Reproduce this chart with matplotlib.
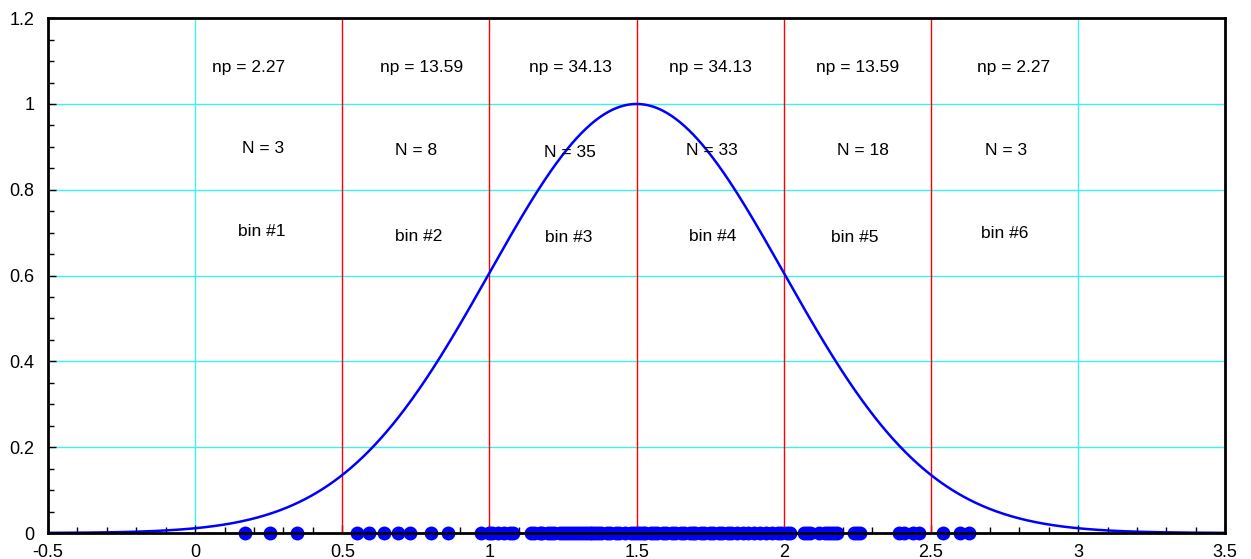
import numpy as np
import matplotlib.pyplot as plt

plt.rcParams['font.family'] = ['Liberation Sans', 'DejaVu Sans']

# Gaussian curve parameters
mu = 1.5
sigma = 0.5

# bin edges and labels
bin_edges = [0.5, 1.0, 1.5, 2.0, 2.5]
np_labels = ['np = 2.27', 'np = 13.59', 'np = 34.13', 'np = 34.13', 'np = 13.59', 'np = 2.27']
n_labels = ['N = 3', 'N = 8', 'N = 35', 'N = 33', 'N = 18', 'N = 3']
bin_labels = ['bin #1', 'bin #2', 'bin #3', 'bin #4', 'bin #5', 'bin #6']
np_x = [0.18, 0.77, 1.275, 1.75, 2.25, 2.78]
n_x = [0.23, 0.75, 1.275, 1.755, 2.27, 2.755]
n_y = [0.897, 0.892, 0.888, 0.892, 0.892, 0.892]
bin_x = [0.225, 0.76, 1.27, 1.76, 2.24, 2.75]
bin_y = [0.702, 0.690, 0.688, 0.692, 0.688, 0.697]

# sample points (100 values)
samples = [
    0.17, 0.255, 0.345,
    0.55, 0.59, 0.64, 0.69, 0.73, 0.80, 0.86, 0.97,
    1.00, 1.01, 1.03, 1.05, 1.07, 1.08,
    1.14, 1.15, 1.17, 1.18, 1.20, 1.21, 1.22, 1.24, 1.25, 1.26,
    1.27, 1.28, 1.29, 1.30, 1.31, 1.32, 1.33, 1.34, 1.35, 1.36,
    1.37, 1.38, 1.40, 1.41, 1.43, 1.44, 1.46, 1.48, 1.49,
    1.50, 1.51, 1.52, 1.53, 1.55, 1.56, 1.57, 1.59, 1.60, 1.62,
    1.63, 1.65, 1.66, 1.68, 1.69, 1.70, 1.72, 1.73, 1.75, 1.76,
    1.78, 1.79, 1.81, 1.82, 1.84, 1.86, 1.88, 1.90, 1.92, 1.94,
    1.96, 1.98, 1.99,
    2.01, 2.02, 2.07, 2.08, 2.09, 2.12, 2.14, 2.15, 2.16, 2.17, 2.18,
    2.24, 2.25, 2.26, 2.39, 2.41, 2.44, 2.46,
    2.54, 2.60, 2.63,
]

fig = plt.figure(figsize=(12.51, 5.59), dpi=100)
ax = fig.add_axes([0.0384, 0.0465, 0.941, 0.921])

# grid (cyan), skipped where a red bin boundary sits
for gx in np.arange(0, 3.01, 0.5):
    if gx not in bin_edges:
        ax.axvline(gx, color='#40f0f0', lw=1.0, zorder=1)
for gy in np.arange(0.2, 1.01, 0.2):
    ax.axhline(gy, color='#40f0f0', lw=1.0, zorder=1)

# bin boundaries
for e in bin_edges:
    ax.axvline(e, color='red', lw=1.0, zorder=2)

# gaussian curve
x = np.linspace(-0.5, 3.5, 800)
y = np.exp(-(x - mu) ** 2 / (2 * sigma ** 2))
ax.plot(x, y, color='blue', lw=1.8, zorder=3)

# sample dots
ax.scatter(samples, np.zeros(len(samples)), s=100, color='blue', zorder=4, clip_on=False, linewidths=0)

# labels
for i in range(6):
    ax.text(np_x[i], 1.086, np_labels[i], fontsize=12.5, ha='center', va='center', zorder=5)
    ax.text(n_x[i], n_y[i], n_labels[i], fontsize=12.5, ha='center', va='center', zorder=5)
    ax.text(bin_x[i], bin_y[i], bin_labels[i], fontsize=12.5, ha='center', va='center', zorder=5)

ax.set_xlim(-0.5, 3.5)
ax.set_ylim(0, 1.2)
ax.set_xticks(np.arange(-0.5, 3.51, 0.5))
ax.set_xticklabels(['-0.5', '0', '0.5', '1', '1.5', '2', '2.5', '3', '3.5'])
ax.set_yticks(np.arange(0, 1.21, 0.2))
ax.set_yticklabels(['0', '0.2', '0.4', '0.6', '0.8', '1', '1.2'])
ax.set_xticks(np.arange(-0.5, 3.51, 0.1), minor=True)
ax.set_yticks(np.arange(0, 1.21, 0.05), minor=True)
ax.tick_params(which='both', direction='in', top=False, right=False, labelsize=13)
ax.tick_params(which='major', length=6, width=1)
ax.tick_params(which='minor', length=4, width=1)
ax.tick_params(axis='x', which='major', pad=8)
ax.tick_params(axis='y', which='major', pad=10)
for sp in ax.spines.values():
    sp.set_linewidth(2)
    sp.set_zorder(6)

plt.savefig('out.png', dpi=100)
